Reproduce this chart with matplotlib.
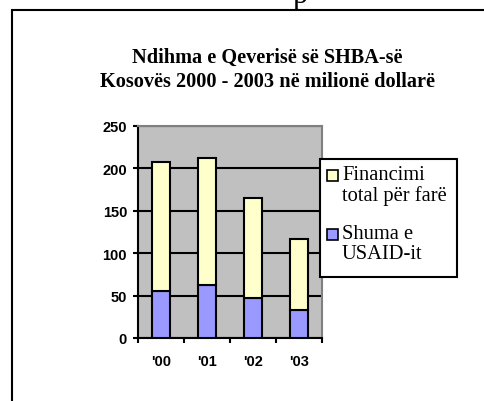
import matplotlib
matplotlib.use("Agg")
import matplotlib.pyplot as plt
from matplotlib.patches import Rectangle
import numpy as np

# data (million USD)
years = ["'00", "'01", "'02", "'03"]
usaid = [56, 62, 47, 33]          # Shuma e USAID-it
total = [207, 212, 165, 117]      # Financimi total për farë
yticks = [0, 50, 100, 150, 200, 250]

title = "Ndihma e Qeverisë së SHBA-së\nKosovës 2000 - 2003 në milionë dollarë"
labels = ["Financimi\ntotal për farë", "Shuma e\nUSAID-it"]

YELLOW = "#FFFFCC"
BLUE = "#9999FF"
GRAY = "#C0C0C0"

W, H = 484, 402
fig = plt.figure(figsize=(W / 100, H / 100), dpi=100)

def px(x, y):
    # pixel coords (top-left origin) -> figure fraction
    return x / W, 1 - y / H

# frame around the slide content (continues off the image)
fig.patches.append(Rectangle(px(12, 420), 500 / W, 409 / H, transform=fig.transFigure,
                             fill=False, ec="black", lw=1.5))

# cut-off letter from the line above
fig.text(*px(300, 3), "p", family="Liberation Serif", fontsize=22,
         ha="center", va="baseline")

fig.text(*px(267, 70), title, family="Liberation Serif", fontweight="bold",
         fontsize=14.6, ha="center", va="center", linespacing=1.25)

ax = fig.add_axes([138 / W, 1 - 339 / H, 184 / W, 212 / H])
ax.set_facecolor(GRAY)

x = np.arange(len(years))
rest = np.array(total) - np.array(usaid)
ax.bar(x, usaid, width=0.39, color=BLUE, ec="black", lw=1.5, zorder=3)
ax.bar(x, rest, bottom=usaid, width=0.39, color=YELLOW, ec="black", lw=1.5, zorder=3)

ax.set_xlim(-0.5, len(years) - 0.5)
ax.set_ylim(0, 250)
ax.set_yticks(yticks)
ax.yaxis.grid(True, color="black", lw=1.5, zorder=1)
ax.set_axisbelow(True)

ax.set_xticks(np.arange(len(years) + 1) - 0.5)
ax.set_xticklabels([])
ax.set_xticks(x, minor=True)
ax.set_xticklabels(years, minor=True, family="Liberation Sans", fontweight="bold", fontsize=10.5)
ax.tick_params(axis="x", which="major", direction="out", length=3.6, width=1.5)
ax.tick_params(axis="x", which="minor", length=0, pad=11.5)
ax.tick_params(axis="y", direction="out", length=3.6, width=1.5, pad=4.3)
for t in ax.get_yticklabels():
    t.set_family("Liberation Sans")
    t.set_fontweight("bold")
    t.set_fontsize(10.5)

for s in ["top", "right"]:
    ax.spines[s].set_color("#808080")
    ax.spines[s].set_linewidth(1.5)
for s in ["left", "bottom"]:
    ax.spines[s].set_color("black")
    ax.spines[s].set_linewidth(1.5)

# legend box
fig.patches.append(Rectangle(px(320, 278), 137 / W, 118 / H, transform=fig.transFigure,
                             fc="white", ec="black", lw=1.5, zorder=5))
for (ytop, col, lab) in [(171, YELLOW, labels[0]), (230, BLUE, labels[1])]:
    fig.patches.append(Rectangle(px(327, ytop + 11), 11 / W, 11 / H, transform=fig.transFigure,
                                 fc=col, ec="black", lw=1.2, zorder=6))
    fig.text(*px(342, ytop - 5), lab, family="Liberation Serif", fontsize=14.8,
             ha="left", va="top", linespacing=1.05, zorder=6)

fig.savefig("out.png", dpi=100)
